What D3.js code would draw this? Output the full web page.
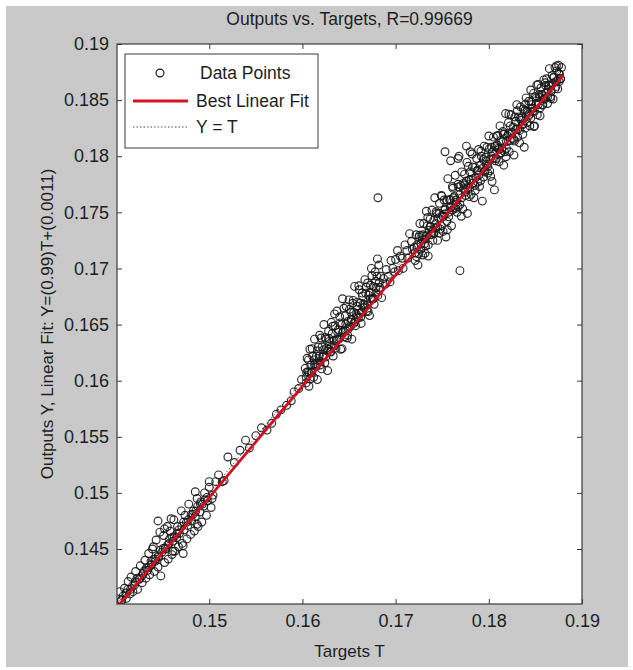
<!DOCTYPE html>
<html><head><meta charset="utf-8">
<script src="https://cdn.jsdelivr.net/npm/d3@7"></script>
<style>
body{margin:0;background:#fff}
text{font-family:"Liberation Sans",Arial,Helvetica,sans-serif;fill:#1e1e1e}
</style>
</head><body>
<svg id="chart" width="633" height="670"></svg>
<script>
// ---------------- data ----------------
const chartTitle = "Outputs vs. Targets, R=0.99669";
const xLabel = "Targets T";
const yLabel = "Outputs Y,  Linear Fit: Y=(0.99)T+(0.0011)";
const xDomain = [0.1401, 0.19];
const yDomain = [0.1401, 0.19];
const xTicks = [0.15, 0.16, 0.17, 0.18, 0.19];
const yTicks = [0.145, 0.15, 0.155, 0.16, 0.165, 0.17, 0.175, 0.18, 0.185, 0.19];
const fitSlope = 0.99;
const fitIntercept = 0.0011;
const fitRange = [0.1401, 0.1880];
const legendLabels = ["Data Points", "Best Linear Fit", "Y = T"];

// lower cluster
const lowerPoints = [
[0.1404,0.1412],[0.1406,0.1404],[0.1409,0.1415],[0.1411,0.1406],[0.1413,0.1421],[0.1415,0.1410],[0.1416,0.1425],[0.1418,0.1412],[0.1420,0.1418],[0.1421,0.1430],[0.1423,0.1414],[0.1425,0.1423],[0.1426,0.1435],[0.1428,0.1420],[0.1429,0.1428],[0.1431,0.1440],[0.1432,0.1424],[0.1434,0.1431],[0.1435,0.1446],[0.1436,0.1427],[0.1438,0.1436],[0.1439,0.1450],[0.1441,0.1430],[0.1442,0.1439],[0.1443,0.1458],[0.1445,0.1434],[0.1446,0.1443],[0.1447,0.1465],[0.1448,0.1426],[0.1449,0.1447],[0.1451,0.1462],[0.1452,0.1438],[0.1453,0.1450],[0.1455,0.1470],[0.1456,0.1441],[0.1457,0.1455],[0.1458,0.1466],[0.1460,0.1445],[0.1461,0.1457],[0.1462,0.1476],[0.1463,0.1448],[0.1465,0.1460],[0.1466,0.1470],[0.1467,0.1452],[0.1468,0.1464],[0.1470,0.1484],[0.1471,0.1455],[0.1472,0.1446],[0.1473,0.1467],[0.1474,0.1480],[0.1476,0.1459],[0.1477,0.1471],[0.1478,0.1490],[0.1480,0.1463],[0.1481,0.1475],[0.1483,0.1484],[0.1484,0.1466],[0.1485,0.1479],[0.1487,0.1495],[0.1488,0.1470],[0.1490,0.1483],[0.1491,0.1492],[0.1492,0.1474],[0.1494,0.1488],[0.1495,0.1500],[0.1497,0.1480],[0.1498,0.1493],[0.1500,0.1505],[0.1502,0.1487],[0.1504,0.1498],[0.1507,0.1510],
[0.1445,0.1475],[0.1459,0.1477],[0.1452,0.1468],[0.1440,0.1452],[0.1485,0.1501],[0.1500,0.1510],[0.1472,0.1453],[0.1461,0.1448],[0.1487,0.1472],[0.1503,0.1495],[0.1514,0.1510],
[0.14075,0.1408],[0.14125,0.1414],[0.14175,0.1417],[0.14225,0.1424],[0.14275,0.1426],[0.14325,0.1433],[0.14375,0.1439],[0.14425,0.1441],[0.14475,0.1449],[0.14525,0.1451],[0.14575,0.1459],[0.14625,0.1461],[0.14675,0.1467],[0.14725,0.1474],[0.14775,0.1476],[0.14825,0.1481],[0.14875,0.1488],[0.14925,0.1490],[0.14975,0.1496],
[0.14055,0.14045],[0.14105,0.14108],[0.14155,0.14140],[0.14205,0.14208],[0.14255,0.14240],[0.14305,0.14306],[0.14355,0.14338],[0.14405,0.14408],[0.14455,0.14440],[0.14505,0.14505],[0.14555,0.14538],[0.14605,0.14606],[0.14655,0.14640],[0.14705,0.14702],[0.14755,0.14738],[0.14805,0.14806],[0.14855,0.14838],[0.14905,0.14904],[0.14955,0.14940]
];

// sparse stretch between the clusters
const sparsePoints = [
[0.1510,0.1516],[0.1516,0.1511],[0.1520,0.1532],[0.1527,0.1527],[0.1533,0.1538],[0.1539,0.1547],[0.1543,0.1540],[0.1550,0.1551],[0.1556,0.1558],[0.1562,0.1556],[0.1567,0.1562],[0.1572,0.1570],[0.1577,0.1574],[0.1583,0.1578],[0.1588,0.1582],[0.1591,0.1590],[0.1596,0.1593],[0.1599,0.1601]
];

// middle cluster
const middlePoints = [
[0.1603,0.1611],[0.1604,0.1598],[0.1605,0.1620],[0.1606,0.1608],[0.1607,0.1595],[0.1608,0.1628],[0.1609,0.1614],[0.1610,0.1607],[0.1611,0.1622],[0.1612,0.1603],[0.1613,0.1637],[0.1614,0.1615],[0.1615,0.1622],[0.1616,0.1601],[0.1617,0.1630],[0.1618,0.1622],[0.1619,0.1614],[0.1620,0.1638],[0.1621,0.1630],[0.1622,0.1621],[0.1623,0.1650],[0.1624,0.1616],[0.1625,0.1637],[0.1626,0.1629],[0.1627,0.1609],[0.1628,0.1644],[0.1629,0.1635],[0.1630,0.1626],[0.1631,0.1652],[0.1632,0.1642],[0.1633,0.1622],[0.1634,0.1636],[0.1635,0.1649],[0.1636,0.1629],[0.1637,0.1662],[0.1638,0.1643],[0.1639,0.1637],[0.1640,0.1657],[0.1641,0.1628],[0.1642,0.1650],[0.1643,0.1673],[0.1644,0.1644],[0.1645,0.1639],[0.1646,0.1658],[0.1647,0.1666],[0.1648,0.1638],[0.1649,0.1653],[0.1650,0.1672],[0.1651,0.1648],[0.1652,0.1661],[0.1653,0.1637],[0.1654,0.1669],[0.1655,0.1661],[0.1656,0.1684],[0.1657,0.1649],[0.1658,0.1659],[0.1659,0.1670],[0.1660,0.1656],[0.1661,0.1681],[0.1662,0.1669],[0.1663,0.1651],[0.1664,0.1678],[0.1665,0.1668],[0.1666,0.1665],[0.1667,0.1690],[0.1668,0.1678],[0.1669,0.1662],[0.1670,0.1687],[0.1671,0.1676],[0.1672,0.1658],[0.1673,0.1685],[0.1674,0.1700],[0.1675,0.1673],[0.1676,0.1684],[0.1677,0.1668],[0.1678,0.1697],[0.1679,0.1683],[0.1680,0.1693],[0.1681,0.1676],[0.1682,0.1703],[0.1683,0.1683],[0.1684,0.1693],[0.1685,0.1674],
[0.16045,0.16075],[0.16065,0.16185],[0.16085,0.16015],[0.16105,0.16285],[0.16125,0.16185],[0.16145,0.16125],[0.16165,0.16265],[0.16185,0.16405],[0.16205,0.16105],[0.16225,0.16275],[0.16245,0.16385],[0.16265,0.16265],[0.16285,0.16375],[0.16305,0.16255],[0.16325,0.16485],[0.16345,0.16595],[0.16365,0.16355],[0.16385,0.16455],[0.16405,0.16515],[0.16425,0.16285],[0.16445,0.16645],[0.16465,0.16505],[0.16485,0.16405],[0.16505,0.16635],[0.16525,0.16545],[0.16545,0.16715],[0.16565,0.16525],[0.16585,0.16665],[0.16605,0.16845],[0.16625,0.16565],[0.16645,0.16755],[0.16665,0.16675],[0.16685,0.16835],[0.16705,0.16615],[0.16725,0.16785],[0.16745,0.16935],[0.16765,0.16735],[0.16785,0.16885],[0.16805,0.17085],[0.16825,0.16875],
[0.1604,0.1603],[0.1607,0.1607],[0.1610,0.1608],[0.1613,0.1614],[0.1616,0.1615],[0.1619,0.1617],[0.1622,0.1622],[0.1625,0.1621],[0.1628,0.1628],[0.1631,0.1630],[0.1634,0.1631],[0.1637,0.1637],[0.1640,0.1638],[0.1643,0.1643],[0.1646,0.1645],[0.1649,0.1646],[0.1652,0.1652],[0.1655,0.1651],[0.1658,0.1657],[0.1661,0.1660],[0.1664,0.1661],[0.1667,0.1666],[0.1670,0.1668],[0.1673,0.1673],[0.1676,0.1673],[0.1679,0.1678],[0.1682,0.1681]
];

// narrow stretch around 0.17
const transitionPoints = [
[0.1687,0.1691],[0.1689,0.1686],[0.1690,0.1699],[0.1692,0.1693],[0.1694,0.1688],[0.1695,0.1707],[0.1697,0.1700],[0.1699,0.1697],[0.1700,0.1708],[0.1702,0.1716],[0.1703,0.1698],[0.1705,0.1711],[0.1707,0.1709],[0.1708,0.1700],[0.1710,0.1721],[0.1712,0.1716],[0.1713,0.1709],[0.1715,0.1731],[0.1717,0.1724],[0.1718,0.1717]
];

// upper cluster
const upperPoints = [
[0.1720,0.1719],[0.1721,0.1707],[0.1722,0.1730],[0.1723,0.1719],[0.1724,0.1703],[0.1725,0.1728],[0.1726,0.1740],[0.1727,0.1717],[0.1728,0.1729],[0.1729,0.1712],
[0.1730,0.1740],[0.1731,0.1726],[0.1732,0.1720],[0.1733,0.1751],[0.1734,0.1738],[0.1735,0.1711],[0.1736,0.1734],[0.1737,0.1744],[0.1738,0.1730],[0.1739,0.1752],
[0.1740,0.1725],[0.1741,0.1743],[0.1742,0.1763],[0.1743,0.1736],[0.1744,0.1749],[0.1745,0.1725],[0.1746,0.1745],[0.1747,0.1758],[0.1748,0.1735],[0.1749,0.1765],
[0.1750,0.1747],[0.1751,0.1733],[0.1752,0.1761],[0.1753,0.1753],[0.1754,0.1728],[0.1755,0.1761],[0.1756,0.1780],[0.1757,0.1746],[0.1758,0.1761],[0.1759,0.1754],
[0.1760,0.1738],[0.1761,0.1773],[0.1762,0.1763],[0.1763,0.1754],[0.1764,0.1783],[0.1765,0.1761],[0.1766,0.1750],[0.1767,0.1775],[0.1768,0.1800],[0.1769,0.1757],
[0.1770,0.1774],[0.1771,0.1786],[0.1772,0.1753],[0.1773,0.1771],[0.1774,0.1784],[0.1775,0.1768],[0.1776,0.1778],[0.1777,0.1749],[0.1778,0.1791],[0.1779,0.1779],
[0.1780,0.1786],[0.1781,0.1766],[0.1782,0.1802],[0.1783,0.1780],[0.1784,0.1763],[0.1785,0.1790],[0.1786,0.1781],[0.1787,0.1798],[0.1788,0.1777],[0.1789,0.1806],
[0.1790,0.1773],[0.1791,0.1792],[0.1792,0.1800],[0.1793,0.1760],[0.1794,0.1797],[0.1795,0.1809],[0.1796,0.1787],[0.1797,0.1796],[0.1798,0.1808],[0.1799,0.1785],
[0.1800,0.1818],[0.1801,0.1797],[0.1802,0.1782],[0.1803,0.1808],[0.1804,0.1804],[0.1805,0.1817],[0.1806,0.1770],[0.1807,0.1809],[0.1808,0.1798],[0.1809,0.1818],
[0.1810,0.1807],[0.1811,0.1795],[0.1812,0.1827],[0.1813,0.1814],[0.1814,0.1807],[0.1815,0.1822],[0.1816,0.1792],[0.1817,0.1820],[0.1818,0.1838],[0.1819,0.1807],
[0.1820,0.1818],[0.1821,0.1830],[0.1822,0.1804],[0.1823,0.1827],[0.1824,0.1837],[0.1825,0.1816],[0.1826,0.1826],[0.1827,0.1801],[0.1828,0.1835],[0.1829,0.1824],
[0.1830,0.1846],[0.1831,0.1817],[0.1832,0.1835],[0.1833,0.1812],[0.1834,0.1844],[0.1835,0.1834],[0.1836,0.1828],[0.1837,0.1842],[0.1838,0.1808],[0.1839,0.1841],
[0.1840,0.1852],[0.1841,0.1830],[0.1842,0.1839],[0.1843,0.1849],[0.1844,0.1827],[0.1845,0.1859],[0.1846,0.1846],[0.1847,0.1840],[0.1848,0.1856],[0.1849,0.1827],
[0.1850,0.1853],[0.1851,0.1847],[0.1852,0.1837],[0.1853,0.1864],[0.1854,0.1855],[0.1855,0.1836],[0.1856,0.1861],[0.1857,0.1855],[0.1858,0.1846],[0.1859,0.1868],
[0.1860,0.1851],[0.1861,0.1863],[0.1862,0.1869],[0.1863,0.1847],[0.1864,0.1863],[0.1865,0.1878],[0.1866,0.1853],[0.1867,0.1863],[0.1868,0.1872],[0.1869,0.1851],
[0.1870,0.1870],[0.1871,0.1879],[0.1872,0.1862],[0.1873,0.1876],[0.1874,0.1860],[0.1875,0.1881],[0.1876,0.1873],[0.1877,0.1869],[0.1878,0.1879],
[0.17225,0.17105],[0.17255,0.17295],[0.17285,0.17255],[0.17315,0.17135],[0.17345,0.17455],[0.17375,0.17375],[0.17405,0.17315],[0.17435,0.17505],[0.17465,0.17315],[0.17495,0.17645],[0.17525,0.17485],[0.17555,0.17345],[0.17585,0.17615],[0.17615,0.17715],[0.17645,0.17535],[0.17675,0.17725],[0.17705,0.17465],[0.17735,0.17745],[0.17765,0.17945],[0.17795,0.17715],[0.17825,0.17905],[0.17855,0.17695],[0.17885,0.17875],[0.17915,0.18045],[0.17945,0.17815],[0.17975,0.17925],[0.18005,0.18065],[0.18035,0.17775],[0.18065,0.18085],[0.18095,0.18185],[0.18125,0.18025],[0.18155,0.18195],[0.18185,0.17995],[0.18215,0.18375],[0.18245,0.18215],[0.18275,0.18135],[0.18305,0.18405],[0.18335,0.18335],[0.18365,0.18195],[0.18395,0.18465],[0.18425,0.18355],[0.18455,0.18485],[0.18485,0.18265],[0.18515,0.18635],[0.18545,0.18525],[0.18575,0.18455],[0.18605,0.18655],[0.18635,0.18595],[0.18665,0.18515],[0.18695,0.18705],[0.18725,0.18805],[0.18755,0.18665],
[0.1721,0.1714],[0.1723,0.1721],[0.1725,0.1713],[0.1727,0.1722],[0.1729,0.1730],[0.1731,0.1722],[0.1733,0.1729],[0.1735,0.1721],[0.1737,0.1737],[0.1739,0.1733],[0.1741,0.1731],[0.1743,0.1740],[0.1745,0.1737],[0.1747,0.1749],[0.1749,0.1738],[0.1751,0.1746],[0.1753,0.1752],[0.1755,0.1742],[0.1757,0.1750],[0.1759,0.1755],[0.1761,0.1752],[0.1763,0.1764],[0.1765,0.1759],[0.1767,0.1755],[0.1769,0.1766],[0.1771,0.1763],[0.1773,0.1776],[0.1775,0.1765],[0.1777,0.1772],[0.1779,0.1764],[0.1781,0.1779],[0.1783,0.1776],[0.1785,0.1774],[0.1787,0.1787],[0.1789,0.1783],[0.1791,0.1778],[0.1793,0.1789],[0.1795,0.1786],[0.1797,0.1799],[0.1799,0.1791],[0.1801,0.1787],[0.1803,0.1800],[0.1805,0.1798],[0.1807,0.1796],[0.1809,0.1810],[0.1811,0.1806],[0.1813,0.1803],[0.1815,0.1813],[0.1817,0.1804],[0.1819,0.1813],[0.1821,0.1820],[0.1823,0.1814],[0.1825,0.1821],[0.1827,0.1815],[0.1829,0.1831],[0.1831,0.1824],[0.1833,0.1823],[0.1835,0.1832],[0.1837,0.1829],[0.1839,0.1825],[0.1841,0.1840],[0.1843,0.1837],[0.1845,0.1834],[0.1847,0.1843],[0.1849,0.1840],[0.1851,0.1852],[0.1853,0.1846],[0.1855,0.1843],[0.1857,0.1854],[0.1859,0.1851],[0.1861,0.1856],[0.1863,0.1853],[0.1865,0.1863],[0.1867,0.1858],[0.1869,0.1865],[0.1871,0.1860],[0.1873,0.1867],[0.1875,0.1874],[0.1877,0.1869],
[0.1753,0.1804],[0.1759,0.1796],[0.1767,0.1798],[0.1776,0.1809],[0.1780,0.1804]
];

// isolated points
const outlierPoints = [[0.1681,0.1763],[0.1769,0.1698]];

// ---------------- drawing ----------------
const svg = d3.select("#chart");
const W = 633, H = 670;
const plot = {left:117, right:582, top:44, bottom:604};

svg.append("rect").attr("x",0).attr("y",0).attr("width",W).attr("height",H).attr("fill","#ffffff");
svg.append("rect").attr("x",6).attr("y",6).attr("width",622).attr("height",661).attr("fill","#c9c9c9");

const x = d3.scaleLinear().domain(xDomain).range([plot.left, plot.right]);
const y = d3.scaleLinear().domain(yDomain).range([plot.bottom, plot.top]);

svg.append("rect").attr("x",plot.left).attr("y",plot.top)
  .attr("width",plot.right-plot.left).attr("height",plot.bottom-plot.top).attr("fill","#ffffff");

const defs = svg.append("defs");
defs.append("clipPath").attr("id","clip")
  .append("rect").attr("x",plot.left).attr("y",plot.top)
  .attr("width",plot.right-plot.left).attr("height",plot.bottom-plot.top);
defs.append("filter").attr("id","soft").append("feGaussianBlur").attr("stdDeviation",0.35);

const allPoints = [].concat(lowerPoints, sparsePoints, middlePoints, transitionPoints, upperPoints, outlierPoints);

const gData = svg.append("g").attr("clip-path","url(#clip)");
const gPts = gData.append("g").attr("filter","url(#soft)");
gPts.selectAll("circle").data(allPoints).enter().append("circle")
  .attr("cx", d => x(d[0])).attr("cy", d => y(d[1])).attr("r", 3.9)
  .attr("fill","none").attr("stroke","#151515").attr("stroke-width",1.15).attr("stroke-opacity",0.9);

// best linear fit
const fitLine = d3.line().x(d => x(d)).y(d => y(fitSlope*d + fitIntercept));
gData.append("path").datum(fitRange).attr("d", fitLine)
  .attr("fill","none").attr("stroke","#cf1020").attr("stroke-width",2.8);
// Y = T
const idLine = d3.line().x(d => x(d)).y(d => y(d));
gData.append("path").datum(fitRange).attr("d", idLine)
  .attr("fill","none").attr("stroke","#222").attr("stroke-width",0.8).attr("stroke-dasharray","1.5,2");

// axes
const tickStyle = g => {
  g.select(".domain").remove();
  g.selectAll(".tick line").attr("stroke","#3a3a3a");
  g.selectAll(".tick text").style("font-size","18px").attr("fill","#1e1e1e");
};
svg.append("g").attr("transform",`translate(0,${plot.bottom})`)
  .call(d3.axisBottom(x).tickValues(xTicks).tickFormat(d3.format("")).tickSize(-5).tickPadding(10))
  .call(tickStyle);
svg.append("g").attr("transform",`translate(0,${plot.top})`)
  .call(d3.axisTop(x).tickValues(xTicks).tickFormat("").tickSize(-5))
  .call(tickStyle);
svg.append("g").attr("transform",`translate(${plot.left},0)`)
  .call(d3.axisLeft(y).tickValues(yTicks).tickFormat(d3.format("")).tickSize(-5).tickPadding(8))
  .call(tickStyle);
svg.append("g").attr("transform",`translate(${plot.right},0)`)
  .call(d3.axisRight(y).tickValues(yTicks).tickFormat("").tickSize(-5))
  .call(tickStyle);

svg.append("rect").attr("x",plot.left).attr("y",plot.top)
  .attr("width",plot.right-plot.left).attr("height",plot.bottom-plot.top)
  .attr("fill","none").attr("stroke","#3a3a3a").attr("stroke-width",1.2);

// title & labels
svg.append("text").attr("x",(plot.left+plot.right)/2).attr("y",25)
  .attr("text-anchor","middle").style("font-size","17.5px").text(chartTitle);
svg.append("text").attr("x",(plot.left+plot.right)/2).attr("y",657)
  .attr("text-anchor","middle").style("font-size","17px").text(xLabel);
svg.append("text").attr("transform",`translate(53,${(plot.top+plot.bottom)/2}) rotate(-90)`)
  .attr("text-anchor","middle").style("font-size","17px").text(yLabel);

// legend
const lg = svg.append("g");
lg.append("rect").attr("x",125).attr("y",54).attr("width",193).attr("height",94)
  .attr("fill","#ffffff").attr("stroke","#3a3a3a").attr("stroke-width",1);
lg.append("circle").attr("cx",160).attr("cy",73).attr("r",3.9)
  .attr("fill","none").attr("stroke","#151515").attr("stroke-width",1.15);
lg.append("line").attr("x1",133).attr("x2",188).attr("y1",101).attr("y2",101)
  .attr("stroke","#d8141c").attr("stroke-width",2.8);
lg.append("line").attr("x1",133).attr("x2",188).attr("y1",127).attr("y2",127)
  .attr("stroke","#222").attr("stroke-width",0.8).attr("stroke-dasharray","1.5,2");
const legendY = [79, 107, 133];
const legendX = [200, 196, 196];
legendLabels.forEach((t,i) => {
  lg.append("text").attr("x",legendX[i]).attr("y",legendY[i]).style("font-size","17.5px").text(t);
});
</script>
</body></html>
